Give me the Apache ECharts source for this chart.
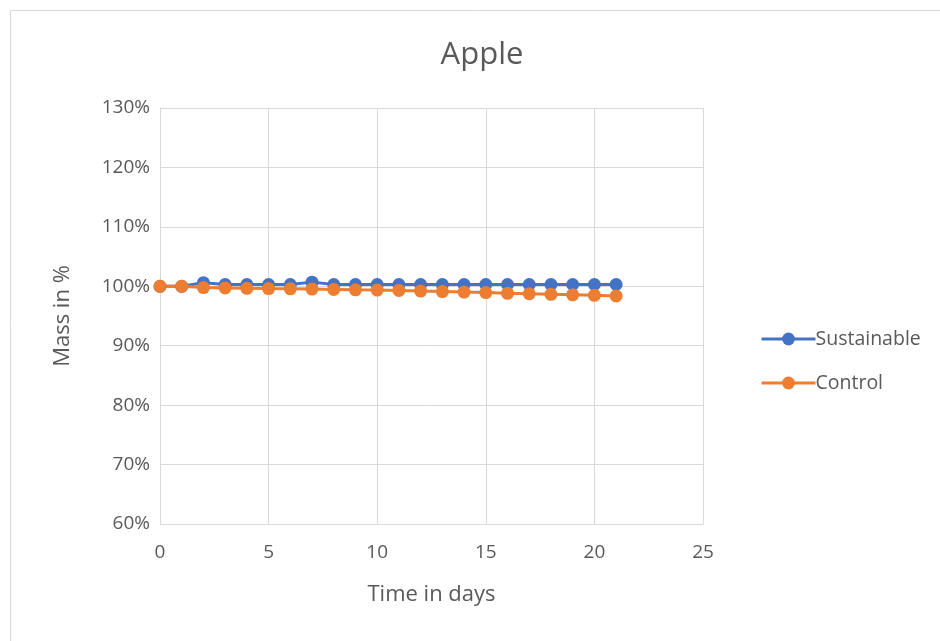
<!DOCTYPE html>
<html>
<head>
<meta charset="utf-8">
<script src="https://cdn.jsdelivr.net/npm/echarts@6/dist/echarts.min.js"></script>
<style>
  html, body { margin: 0; padding: 0; background: #ffffff; }
  #chart { width: 940px; height: 641px; }
</style>
</head>
<body>
<div id="chart"></div>
<script>
// Days of measurement
const days = [0, 1, 2, 3, 4, 5, 6, 7, 8, 9, 10, 11, 12, 13, 14, 15, 16, 17, 18, 19, 20, 21];
// Relative mass (%) of the apple samples
const sustainable = [100.0, 100.0, 100.6, 100.3, 100.3, 100.3, 100.3, 100.7, 100.3, 100.3, 100.3, 100.3, 100.3, 100.3, 100.3, 100.3, 100.3, 100.3, 100.3, 100.3, 100.3, 100.3];
const control = [100.0, 100.0, 99.78, 99.73, 99.66, 99.61, 99.58, 99.53, 99.48, 99.41, 99.36, 99.31, 99.19, 99.11, 99.02, 98.94, 98.82, 98.74, 98.65, 98.57, 98.48, 98.38];
const seriesNames = ['Sustainable', 'Control'];

const FONT = 'Open Sans';
const TXT = '#595959';
const GRID = '#d9d9d9';

const pairs = arr => days.map((d, i) => [d, arr[i]]);

const chart = echarts.init(document.getElementById('chart'), null, { renderer: 'canvas' });
chart.setOption({
  animation: false,
  backgroundColor: '#ffffff',
  textStyle: { fontFamily: FONT },
  title: {
    text: 'Apple',
    left: 477, top: 35, textAlign: 'center',
    textStyle: { fontFamily: FONT, fontSize: 31, fontWeight: 'normal', color: TXT }
  },
  graphic: [{
    type: 'rect',
    shape: { x: 10.5, y: 10.5, width: 960, height: 660 },
    style: { fill: 'none', stroke: GRID, lineWidth: 1 },
    silent: true
  }],
  legend: {
    orient: 'vertical',
    left: 755, top: 324,
    itemWidth: 54, itemHeight: 16,
    itemGap: 24,
    lineStyle: { width: 3 },
    textStyle: { fontFamily: FONT, fontSize: 19.5, color: TXT, padding: [0, 0, 0, -5] },
    data: seriesNames
  },
  grid: { left: 160, right: 237, top: 108, bottom: 117, containLabel: false },
  xAxis: {
    type: 'value', min: 0, max: 25, interval: 5,
    name: 'Time in days', nameLocation: 'middle', nameGap: 60,
    nameTextStyle: { fontFamily: FONT, fontSize: 22, color: TXT },
    axisLine: { show: true, lineStyle: { color: GRID, width: 1 } },
    axisTick: { show: false },
    axisLabel: { color: TXT, fontSize: 19, fontFamily: FONT, margin: 19 },
    splitLine: { show: true, lineStyle: { color: GRID, width: 1 } }
  },
  yAxis: {
    type: 'value', min: 60, max: 130, interval: 10,
    name: 'Mass in %', nameLocation: 'middle', nameGap: 86, nameRotate: 90,
    nameTextStyle: { fontFamily: FONT, fontSize: 22, color: TXT },
    axisLine: { show: true, lineStyle: { color: GRID, width: 1 } },
    axisTick: { show: false },
    axisLabel: { color: TXT, fontSize: 19, fontFamily: FONT, margin: 10, formatter: v => v + '%' },
    splitLine: { show: true, lineStyle: { color: GRID, width: 1 } }
  },
  series: [
    {
      name: seriesNames[0], type: 'line', data: pairs(sustainable),
      symbol: 'circle', symbolSize: 13,
      itemStyle: { color: '#4472c4' },
      lineStyle: { color: '#4472c4', width: 3 }
    },
    {
      name: seriesNames[1], type: 'line', data: pairs(control),
      symbol: 'circle', symbolSize: 13,
      itemStyle: { color: '#ed7d31' },
      lineStyle: { color: '#ed7d31', width: 3 }
    }
  ]
});
</script>
</body>
</html>
